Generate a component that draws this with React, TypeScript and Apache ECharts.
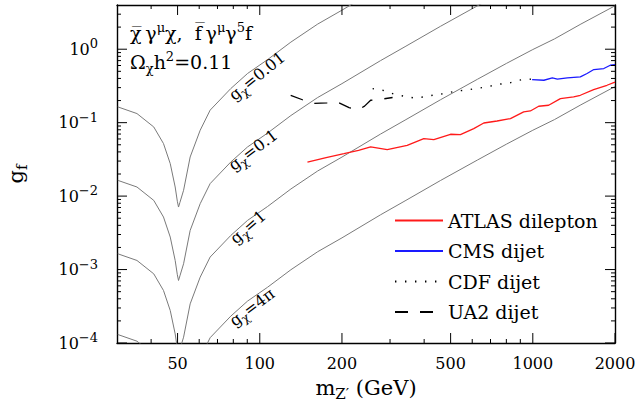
import React, { useEffect, useRef } from "react";
import * as echarts from "echarts";

const FONT = "'DejaVu Serif', 'Liberation Serif', serif";

// Tick values (GeV on x, g_f on y)
const xMajorTicks = [50, 100, 200, 500, 1000, 2000];
const xMinorTicks = [40, 60, 70, 80, 90, 300, 400, 600, 700, 800, 900];
const yMajorTicks = [1e-4, 1e-3, 1e-2, 1e-1, 1];
const yMinorFactors = [2, 3, 4, 5, 6, 7, 8, 9];

// Relic-density curves
const massGx001 = [30.2, 35.5, 40.9, 44.4, 47.0, 49.0, 49.9, 50.4, 51.0, 52.6, 55.6, 60.5, 65.8, 78.3, 90.2, 106.7, 130, 163, 200, 220];
const gfGx001 = [0.164, 0.133, 0.0874, 0.0519, 0.0277, 0.0133, 0.0085, 0.0071, 0.0082, 0.012, 0.0341, 0.0788, 0.148, 0.291, 0.467, 0.72, 1.25, 2.2, 3.4, 4.2];

const massGx01 = [30.2, 35.5, 40.9, 44.4, 47.0, 49.0, 49.9, 50.4, 51.0, 52.6, 55.6, 60.5, 65.8, 78.3, 90.2, 106.7, 130, 163, 200, 277, 343, 459, 627, 680];
const gfGx01 = [0.0164, 0.0133, 0.00874, 0.00519, 0.00277, 0.00133, 0.00085, 0.00071, 0.00082, 0.0012, 0.00341, 0.00788, 0.0148, 0.0291, 0.0467, 0.072, 0.125, 0.22, 0.34, 0.70, 1.10, 2.05, 3.9, 4.6];

const massGx1 = [30.2, 35.5, 40.9, 44.4, 47.0, 49.0, 49.9, 50.4, 51.0, 52.6, 55.6, 60.5, 65.8, 78.3, 90.2, 106.7, 130, 163, 200, 277, 343, 459, 627, 800, 1000, 1200, 1500, 2000];
const gfGx1 = [0.00164, 0.00133, 0.000874, 0.000519, 0.000277, 0.000133, 0.000085, 0.000071, 0.000082, 0.00012, 0.000341, 0.000788, 0.00148, 0.00291, 0.00467, 0.0072, 0.0125, 0.022, 0.034, 0.070, 0.110, 0.205, 0.39, 0.64, 0.99, 1.38, 2.2, 3.9];

const massGx4pi = [30.2, 35.5, 40.9, 44.4, 47.0, 49.0, 49.9, 50.4, 51.0, 52.6, 55.6, 60.5, 65.8, 78.3, 90.2, 106.7, 130, 163, 200, 277, 343, 459, 627, 800, 1000, 1200, 1500, 2000];
const gfGx4pi = [1.305e-4, 1.058e-4, 6.95e-5, 4.13e-5, 2.2e-5, 1.06e-5, 6.8e-6, 5.6e-6, 6.5e-6, 9.5e-6, 2.71e-5, 6.27e-5, 1.18e-4, 2.32e-4, 3.72e-4, 5.73e-4, 9.94e-4, 1.75e-3, 2.70e-3, 5.57e-3, 8.75e-3, 0.0163, 0.031, 0.0509, 0.0788, 0.110, 0.175, 0.31];

// Experimental limits
const massAtlas = [149.5, 175, 203.4, 230, 254.7, 293, 346.7, 398.8, 434, 499.5, 543, 607.7, 661.4, 739.7, 827.9, 926, 979.5, 1051, 1143, 1262, 1411, 1493, 1670, 1869, 2000];
const gfAtlas = [0.0291, 0.0335, 0.0379, 0.042, 0.0467, 0.043, 0.0492, 0.0607, 0.0588, 0.0695, 0.0688, 0.0831, 0.099, 0.1054, 0.1137, 0.140, 0.1443, 0.1673, 0.1726, 0.2129, 0.224, 0.236, 0.2825, 0.323, 0.357];

const massCms = [994, 1098, 1179, 1230, 1338, 1493, 1580, 1673, 1820, 1922, 2000];
const gfCms = [0.3866, 0.378, 0.4064, 0.3926, 0.4064, 0.4195, 0.4666, 0.529, 0.5457, 0.605, 0.615];

const massCdf = [259, 281.6, 311, 338, 367, 400, 441, 479, 522, 567, 616, 682, 743, 808, 890, 955, 994];
const gfCdf = [0.291, 0.276, 0.244, 0.229, 0.217, 0.224, 0.241, 0.249, 0.270, 0.2765, 0.291, 0.307, 0.334, 0.341, 0.378, 0.394, 0.39];

const massUa2 = [129.8, 143.3, 157.6, 176.5, 192.9, 212.4, 230, 242, 254.7, 277, 306.5];
const gfUa2 = [0.236, 0.205, 0.183, 0.186, 0.19, 0.160, 0.150, 0.168, 0.202, 0.208, 0.220];

const legendNames = ["ATLAS dilepton", "CMS dijet", "CDF dijet", "UA2 dijet"];

const lg = Math.log10;
const X_MIN = lg(30);
const X_MAX = lg(2000);
const Y_MIN = lg(1e-4);
const Y_MAX = lg(4);

const pts = (m: number[], g: number[]) => m.map((v, i) => [lg(v), lg(g[i])]);

const yMinorTicks: number[] = [];
yMajorTicks.forEach((d) => yMinorFactors.forEach((k) => {
  const v = lg(d * k);
  if (v < Y_MAX - 1e-6) yMinorTicks.push(v);
}));

// tick data: [position(log10), length px]
const xTickData = [
  ...xMajorTicks.map((v) => [lg(v), 10]),
  ...xMinorTicks.map((v) => [lg(v), 4]),
];
const yTickData = [
  ...yMajorTicks.map((v) => [lg(v), 10]),
  ...yMinorTicks.map((v) => [v, 4]),
];

const axisLineStyle = { color: "#000", width: 1.4 };

function xAxisDef(position: "top" | "bottom", withLabels: boolean, extra: any = {}) {
  return {
    type: "value",
    position,
    min: X_MIN,
    max: X_MAX,
    axisLine: { show: true, onZero: false, lineStyle: axisLineStyle },
    axisTick: { show: false },
    axisLabel: withLabels
      ? { show: true, customValues: xMajorTicks.map(lg), margin: 12, fontFamily: FONT, fontSize: 16, color: "#000",
          formatter: (v: number) => String(Math.round(Math.pow(10, v))) }
      : { show: false },
    splitLine: { show: false },
    ...extra,
  };
}

function yAxisDef(position: "left" | "right", withLabels: boolean, extra: any = {}) {
  return {
    type: "value",
    position,
    min: Y_MIN,
    max: Y_MAX,
    axisLine: { show: true, onZero: false, lineStyle: axisLineStyle },
    axisTick: { show: false },
    axisLabel: withLabels
      ? {
          show: true, customValues: yMajorTicks.map(lg), margin: 19, color: "#000",
          formatter: (v: number) => {
            const e = Math.round(v);
            return `{b|10}{s|${e < 0 ? "\u2212" + Math.abs(e) : e}}`;
          },
          rich: {
            b: { fontFamily: FONT, fontSize: 16, lineHeight: 24, color: "#000" },
            s: { fontFamily: FONT, fontSize: 13, lineHeight: 13, verticalAlign: "top", color: "#000" },
          },
        }
      : { show: false },
    splitLine: { show: false },
    ...extra,
  };
}

const grayLine = (name: string, m: number[], g: number[]) => ({
  name, type: "line", data: pts(m, g), symbol: "none", showSymbol: false, clip: true, smooth: false,
  lineStyle: { color: "#7a7a7a", width: 1 }, z: 2, silent: true,
});

const richMain = (size: number, sub: number) => ({
  b: { fontFamily: FONT, fontSize: size, lineHeight: size + 6, color: "#000" },
  sub: { fontFamily: FONT, fontSize: sub, lineHeight: sub, verticalAlign: "bottom", color: "#000" },
  sup: { fontFamily: FONT, fontSize: sub, lineHeight: sub, verticalAlign: "top", color: "#000" },
});

function curveLabel(text: string, x: number, y: number, deg: number) {
  return {
    type: "text", x, y, rotation: (deg * Math.PI) / 180, z: 10,
    style: {
      text, rich: richMain(16, 12), fill: "#000",
      align: "center", verticalAlign: "middle", textAlign: "center", textVerticalAlign: "middle",
    },
  };
}

const tickSeries = (data: number[][], horizontalAxis: boolean) => ({
  type: "custom",
  coordinateSystem: "cartesian2d",
  xAxisIndex: 0,
  yAxisIndex: 0,
  silent: true,
  clip: false,
  z: 5,
  data,
  renderItem: (params: any, api: any) => {
    const v = api.value(0);
    const len = api.value(1);
    const style = { stroke: "#000", lineWidth: 1 };
    if (horizontalAxis) {
      const b = api.coord([v, Y_MIN]);
      const t = api.coord([v, Y_MAX]);
      return {
        type: "group",
        children: [
          { type: "line", shape: { x1: b[0], y1: b[1], x2: b[0], y2: b[1] - len }, style },
          { type: "line", shape: { x1: t[0], y1: t[1], x2: t[0], y2: t[1] + len }, style },
        ],
      };
    }
    const l = api.coord([X_MIN, v]);
    const r = api.coord([X_MAX, v]);
    return {
      type: "group",
      children: [
        { type: "line", shape: { x1: l[0], y1: l[1], x2: l[0] + len, y2: l[1] }, style },
        { type: "line", shape: { x1: r[0], y1: r[1], x2: r[0] - len, y2: r[1] }, style },
      ],
    };
  },
});

export default function App() {
  const ref = useRef<HTMLDivElement>(null);
  useEffect(() => {
    if (!ref.current) return;
    const chart = echarts.init(ref.current, null, { renderer: "svg" });
    const option: any = {
      animation: false,
      backgroundColor: "#fff",
      grid: { left: 117, top: 5, width: 498, height: 338, containLabel: false, outerBoundsMode: "none" },
      xAxis: [
        xAxisDef("bottom", true, {
          name: "{b|m}{sub|Z\u2032}{b| (GeV)}",
          nameLocation: "middle",
          nameGap: 31,
          nameTextStyle: { rich: richMain(21, 15) },
        }),
        xAxisDef("top", false),
      ],
      yAxis: [
        yAxisDef("left", true, {
          name: "{b|g}{sub|f}",
          nameLocation: "middle",
          nameRotate: 90,
          nameGap: 88,
          nameTextStyle: { rich: richMain(21, 15) },
        }),
        yAxisDef("right", false),
      ],
      legend: {
        data: legendNames,
        orient: "vertical",
        left: 389,
        top: 206,
        itemWidth: 48,
        itemHeight: 12,
        itemGap: 11.5,
        itemStyle: { opacity: 0 },
        textStyle: { fontFamily: FONT, fontSize: 19, color: "#000", lineHeight: 18 },
        selectedMode: false,
      },
      graphic: [
        {
          type: "text", x: 130, y: 33, z: 10,
          style: {
            text: "{b|\u03c7\u0305\u2009\u03b3}{sup|\u03bc}{b|\u03c7,  f\u0305\u2009\u03b3}{sup|\u03bc}{b|\u03b3}{sup|5}{b|f}",
            rich: richMain(19, 13), fill: "#000",
            align: "left", verticalAlign: "middle", textAlign: "left", textVerticalAlign: "middle",
          },
        },
        {
          type: "text", x: 130, y: 62, z: 10,
          style: {
            text: "{b|\u03a9}{sub|\u03c7}{b|h}{sup|2}{b|=0.11}",
            rich: richMain(19, 13), fill: "#000",
            align: "left", verticalAlign: "middle", textAlign: "left", textVerticalAlign: "middle",
          },
        },
        curveLabel("{b|g}{sub|\u03c7}{b|=0.01}", 257, 76, 39),
        curveLabel("{b|g}{sub|\u03c7}{b|=0.1}", 253, 150, 37),
        curveLabel("{b|g}{sub|\u03c7}{b|=1}", 248, 227, 41),
        curveLabel("{b|g}{sub|\u03c7}{b|=4\u03c0}", 252, 307, 37),
      ],
      series: [
        grayLine("gx=0.01", massGx001, gfGx001),
        grayLine("gx=0.1", massGx01, gfGx01),
        grayLine("gx=1", massGx1, gfGx1),
        grayLine("gx=4pi", massGx4pi, gfGx4pi),
        {
          name: "ATLAS dilepton", type: "line", data: pts(massAtlas, gfAtlas), symbol: "none", showSymbol: false,
          clip: true, itemStyle: { color: "#ff1a1a" }, lineStyle: { color: "#ff1a1a", width: 1.3 }, z: 3,
        },
        {
          name: "CMS dijet", type: "line", data: pts(massCms, gfCms), symbol: "none", showSymbol: false,
          clip: true, itemStyle: { color: "#1a1aff" }, lineStyle: { color: "#1a1aff", width: 1.3 }, z: 3,
        },
        {
          name: "CDF dijet", type: "line", data: pts(massCdf, gfCdf), symbol: "none", showSymbol: false,
          clip: true, itemStyle: { color: "#000" }, lineStyle: { color: "#000", width: 1.4, type: [1.4, 8.6] }, z: 3,
        },
        {
          name: "UA2 dijet", type: "line", data: pts(massUa2, gfUa2), symbol: "none", showSymbol: false,
          clip: true, itemStyle: { color: "#000" }, lineStyle: { color: "#000", width: 1.3, type: [13, 12] }, z: 3,
        },
        tickSeries(xTickData, true),
        tickSeries(yTickData, false),
      ],
    };
    chart.setOption(option);
    return () => chart.dispose();
  }, []);
  return (
    <div
      ref={ref}
      style={{ position: "fixed", left: 0, top: 0, width: 637, height: 405, background: "#fff" }}
    />
  );
}
